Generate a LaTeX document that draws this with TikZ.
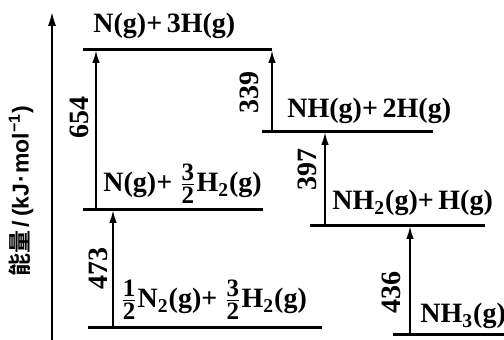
\documentclass[tikz,border=0pt]{standalone}
\usepackage{amsmath}
\usepackage{fontspec}
\setmainfont{Liberation Serif}
\newfontfamily\cjkfont{Noto Sans CJK SC Bold}
\newfontfamily\unitfont{Liberation Sans}[BoldFont={Liberation Sans Bold}]
\usetikzlibrary{arrows.meta,positioning}
\newcommand\frc[2]{\ensuremath{\genfrac{}{}{0.7pt}{}{\mbox{\fontsize{12.5}{13}\selectfont\bfseries #1}}{\mbox{\fontsize{12.5}{13}\selectfont\bfseries #2}}}}

\begin{document}
\begin{tikzpicture}[
  x=0.5pt, y=-0.5pt,
  level/.style={line width=1.5pt},
  arr/.style={-{Latex[length=6.5pt,width=3.8pt]}, line width=1pt},
  axis/.style={-{Latex[length=8pt,width=4pt]}, line width=1.4pt},
  lbl/.style={anchor=base west, inner sep=0pt, font=\fontsize{14}{16}\selectfont\bfseries},
  num/.style={rotate=90, inner sep=0pt, font=\fontsize{14}{16}\selectfont\bfseries}
]
  \useasboundingbox (0,0) rectangle (504,340);
  % energy axis
  \coordinate (ax0) at (52,340);
  \coordinate (ax1) at (52,10);
  \draw[axis] (ax0) -- (ax1);
  \node[rotate=90, inner sep=0pt, font=\fontsize{11.5}{12}\selectfont] (ylab) at (21,191)
    {{\cjkfont 能量}{\unitfont\bfseries\kern1.5pt/\kern2pt(kJ{\kern0.5pt}·{\kern0.5pt}mol\textsuperscript{−1})}};

  % levels
  \coordinate (top-l) at (83,50);   \coordinate (top-r) at (272,50);
  \coordinate (nh-l) at (262,132);  \coordinate (nh-r) at (433,132);
  \coordinate (mid-l) at (83,210);  \coordinate (mid-r) at (263,210);
  \coordinate (nh2-l) at (310,226); \coordinate (nh2-r) at (485,226);
  \coordinate (bot-l) at (88,328);  \coordinate (bot-r) at (322,328);
  \coordinate (nh3-l) at (393,335); \coordinate (nh3-r) at (504,335);
  \draw[level] (top-l) -- (top-r);
  \draw[level] (nh-l) -- (nh-r);
  \draw[level] (mid-l) -- (mid-r);
  \draw[level] (nh2-l) -- (nh2-r);
  \draw[level] (bot-l) -- (bot-r);
  \draw[level] (nh3-l) -- (nh3-r);

  \node[lbl] (top) at (93,33) {N(g)+\,3H(g)};
  \node[lbl] (nh) at (287,118) {NH(g)+\,2H(g)};
  \node[lbl] (mid) at (103,192) {N(g)+ \frc{3}{2}H\textsubscript{2}(g)};
  \node[lbl] (nh2) at (332,210) {NH\textsubscript{2}(g)+\,H(g)};
  \node[lbl] (bot) at (120,308) {\frc{1}{2}N\textsubscript{2}(g)+ \frc{3}{2}H\textsubscript{2}(g)};
  \node[lbl] (nh3) at (420,323) {NH\textsubscript{3}(g)};

  % bond energies
  \coordinate (a654) at (96,210);
  \coordinate (a339) at (272,132);
  \coordinate (a397) at (325,226);
  \coordinate (a473) at (113,328);
  \coordinate (a436) at (410,335);
  \draw[arr] (a654) -- (a654 |- top-l);
  \draw[arr] (a339) -- (a339 |- top-l);
  \draw[arr] (a397) -- (a397 |- nh-l);
  \draw[arr] (a473) -- (a473 |- mid-l);
  \draw[arr] (a436) -- (a436 |- nh2-l);
  \node[num] (e654) at (79,118) {654};
  \node[num] (e339) at (249,93) {339};
  \node[num] (e397) at (307,170) {397};
  \node[num] (e473) at (98,269) {473};
  \node[num] (e436) at (391,293) {436};
\end{tikzpicture}
\end{document}
